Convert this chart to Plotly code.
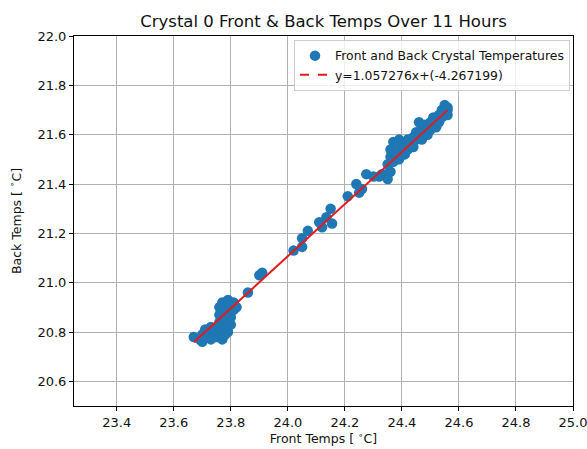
import plotly.graph_objects as go

front_temps = [
    23.67, 23.69, 23.70, 23.71, 23.72, 23.72, 23.73, 23.74, 23.74, 23.75,
    23.75, 23.76, 23.76, 23.77, 23.77, 23.78, 23.78, 23.79, 23.73, 23.70,
    23.76, 23.76, 23.76, 23.77, 23.77, 23.78, 23.78, 23.79, 23.79, 23.80,
    23.80, 23.81, 23.81, 23.82, 23.80, 23.78, 23.77,
    23.86, 23.90, 23.91,
    24.02, 24.05, 24.05, 24.07, 24.11, 24.12, 24.135, 24.15, 24.155,
    24.21, 24.24, 24.25, 24.26, 24.275, 24.32, 24.345,
    24.30, 24.33, 24.35, 24.36,
    24.35, 24.36, 24.36, 24.37, 24.37, 24.38, 24.38, 24.39, 24.39, 24.40,
    24.40, 24.41, 24.41, 24.42, 24.42, 24.43, 24.44, 24.44,
    24.45, 24.45, 24.46, 24.47, 24.47, 24.48, 24.48, 24.49, 24.49, 24.50,
    24.50, 24.51, 24.51, 24.52, 24.52, 24.53, 24.53, 24.54, 24.54, 24.55,
    24.55, 24.56, 24.56, 24.56, 24.46,
]
back_temps = [
    20.78, 20.77, 20.79, 20.81, 20.78, 20.80, 20.77, 20.79, 20.81, 20.78,
    20.80, 20.82, 20.79, 20.77, 20.81, 20.79, 20.82, 20.80, 20.82, 20.76,
    20.84, 20.87, 20.90, 20.92, 20.88, 20.85, 20.91, 20.93, 20.88, 20.86,
    20.91, 20.92, 20.89, 20.90, 20.83, 20.83, 20.86,
    20.96, 21.03, 21.04,
    21.13, 21.145, 21.18, 21.21, 21.245, 21.225, 21.265, 21.30, 21.24,
    21.35, 21.40, 21.365, 21.38, 21.44, 21.43, 21.44,
    21.43, 21.44, 21.42, 21.45,
    21.48, 21.51, 21.54, 21.57, 21.49, 21.52, 21.56, 21.58, 21.50, 21.54,
    21.57, 21.52, 21.55, 21.58, 21.54, 21.56, 21.59, 21.55,
    21.58, 21.61, 21.60, 21.62, 21.58, 21.61, 21.64, 21.63, 21.60, 21.62,
    21.65, 21.64, 21.67, 21.63, 21.66, 21.68, 21.65, 21.70, 21.67, 21.72,
    21.69, 21.71, 21.68, 21.70, 21.65,
]
fit_slope = 1.057276
fit_intercept = -4.267199
x_ticks = [23.4, 23.6, 23.8, 24.0, 24.2, 24.4, 24.6, 24.8, 25.0]
y_ticks = [20.6, 20.8, 21.0, 21.2, 21.4, 21.6, 21.8, 22.0]

fit_x = [min(front_temps), max(front_temps)]
fit_y = [fit_slope * v + fit_intercept for v in fit_x]
fit_label = f"y={fit_slope:.6f}x+({fit_intercept:.6f})"

fig = go.Figure()
fig.add_trace(go.Scatter(
    x=front_temps, y=back_temps, mode="markers",
    name="Front and Back Crystal Temperatures",
    marker=dict(color="#1f77b4", size=10.5, line=dict(width=0)),
))
fig.add_trace(go.Scatter(
    x=fit_x, y=fit_y, mode="lines", showlegend=False,
    line=dict(color="#e8191b", width=2),
))
fig.add_trace(go.Scatter(
    x=[None], y=[None], mode="lines", name=fit_label,
    line=dict(color="#e8191b", width=2, dash="dash"),
))

axis_common = dict(
    showline=True, linecolor="black", linewidth=1, mirror=True,
    ticks="outside", ticklen=4, tickcolor="black",
    showgrid=True, gridcolor="#b0b0b0", gridwidth=0.8,
    zeroline=False, tickfont=dict(size=13, color="#111"),
    automargin=False, ticklabeloverflow="allow",
)
fig.update_xaxes(range=[23.25, 25.0], tickvals=x_ticks,
                 ticktext=[f"{v:.1f}" for v in x_ticks],
                 title=dict(text="Front Temps [ <sup>∘</sup>C]", font=dict(size=12.5, color="#111"), standoff=4),
                 **axis_common)
fig.update_yaxes(range=[20.5, 22.0], tickvals=y_ticks,
                 ticktext=[f"{v:.1f}" for v in y_ticks],
                 title=dict(text="Back Temps [ <sup>∘</sup>C]", font=dict(size=12.5, color="#111"), standoff=13),
                 **axis_common)

fig.update_layout(
    width=587, height=449,
    margin=dict(l=74, r=14, t=36, b=43, autoexpand=False),
    paper_bgcolor="white", plot_bgcolor="white",
    font=dict(family="DejaVu Sans", color="#111"),
    title=dict(text="Crystal 0 Front & Back Temps Over 11 Hours",
               x=0.5, xref="paper", xanchor="center", y=0.953, yanchor="middle",
               font=dict(size=16.5, color="#111")),
    legend=dict(x=0.994, y=0.989, xanchor="right", yanchor="top",
                bgcolor="rgba(255,255,255,0.8)", bordercolor="#cccccc", borderwidth=1,
                font=dict(size=12.4), tracegroupgap=0, itemwidth=30),
    showlegend=True,
)

fig.write_html("out.html", config={"displayModeBar": False},
               post_script="document.body.style.margin='0';document.body.style.padding='0';")
